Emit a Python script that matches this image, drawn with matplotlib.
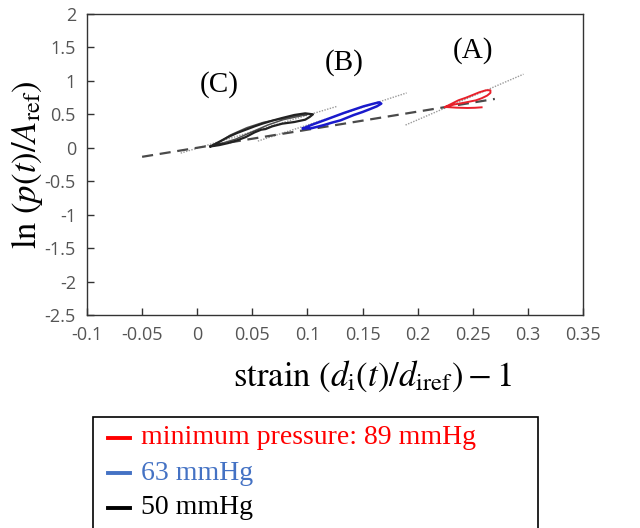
import matplotlib
matplotlib.use("Agg")
import matplotlib.pyplot as plt
from matplotlib.lines import Line2D
from matplotlib.patches import Rectangle

plt.rcParams["mathtext.fontset"] = "stix"

# Pressure-strain hysteresis loops (strain, ln p / A_ref), one traced cycle each
strain_A = [0.225, 0.231, 0.237, 0.244, 0.250, 0.256, 0.262, 0.266, 0.266, 0.263, 0.258, 0.253, 0.247, 0.241, 0.234, 0.228, 0.225]
lnp_A    = [0.610, 0.660, 0.710, 0.750, 0.790, 0.830, 0.860, 0.860, 0.820, 0.780, 0.740, 0.710, 0.690, 0.670, 0.650, 0.625, 0.610]
tail_strain_A = [0.225, 0.235, 0.245, 0.252, 0.258]
tail_lnp_A    = [0.610, 0.600, 0.595, 0.598, 0.605]

strain_B = [0.096, 0.105, 0.115, 0.124, 0.133, 0.142, 0.151, 0.159, 0.165, 0.167, 0.163, 0.157, 0.150, 0.142, 0.136, 0.130, 0.122, 0.115, 0.108, 0.103, 0.096]
lnp_B    = [0.290, 0.350, 0.410, 0.465, 0.520, 0.570, 0.620, 0.655, 0.680, 0.660, 0.620, 0.580, 0.535, 0.490, 0.450, 0.410, 0.375, 0.340, 0.310, 0.290, 0.290]

strain_C = [0.012, 0.020, 0.028, 0.036, 0.044, 0.052, 0.059, 0.068, 0.077, 0.088, 0.098, 0.105, 0.102, 0.098, 0.088, 0.077, 0.068, 0.062, 0.058, 0.052, 0.044, 0.036, 0.028, 0.020, 0.012]
lnp_C    = [0.020, 0.090, 0.160, 0.220, 0.270, 0.320, 0.360, 0.405, 0.445, 0.490, 0.515, 0.500, 0.460, 0.420, 0.385, 0.360, 0.320, 0.280, 0.270, 0.230, 0.160, 0.110, 0.070, 0.040, 0.020]
# second recorded cycle of loop C
strain_C2 = [0.015, 0.030, 0.045, 0.060, 0.075, 0.090, 0.100, 0.092, 0.078, 0.064, 0.050, 0.035, 0.015]
lnp_C2    = [0.030, 0.190, 0.300, 0.380, 0.430, 0.480, 0.500, 0.470, 0.420, 0.340, 0.240, 0.130, 0.030]

# Linear fits per loop (dotted) and across the loops (dashed)
fit_A_strain = [0.189, 0.296]
fit_A_lnp    = [0.340, 1.100]
fit_B_strain = [0.055, 0.190]
fit_B_lnp    = [0.100, 0.820]
fit_C_strain = [-0.015, 0.127]
fit_C_lnp    = [-0.080, 0.620]
fit_all_strain = [-0.050, 0.270]
fit_all_lnp    = [-0.135, 0.730]

labels = ["(A)", "(B)", "(C)"]
label_strain = [0.250, 0.133, 0.020]
label_lnp = [1.46, 1.27, 0.95]

legend_labels = ["minimum pressure: 89 mmHg", "63 mmHg", "50 mmHg"]
legend_colors = ["#ff0000", "#4472c4", "#000000"]
loop_colors = ["#e8202a", "#1a1acc", "#222222"]

xticks = [-0.1, -0.05, 0, 0.05, 0.1, 0.15, 0.2, 0.25, 0.3, 0.35]
xticklabels = ["-0.1", "-0.05", "0", "0.05", "0.1", "0.15", "0.2", "0.25", "0.3", "0.35"]
yticks = [-2.5, -2, -1.5, -1, -0.5, 0, 0.5, 1, 1.5, 2]
yticklabels = ["-2.5", "-2", "-1.5", "-1", "-0.5", "0", "0.5", "1", "1.5", "2"]

fig = plt.figure(figsize=(6.4, 5.28), dpi=100)
ax = fig.add_axes([87 / 640, 1 - 315 / 528, 496 / 640, 301 / 528])

fit_style = dict(color="#9a9a9a", lw=1.0, ls=(0, (1, 1)))
ax.plot(fit_A_strain, fit_A_lnp, **fit_style)
ax.plot(fit_B_strain, fit_B_lnp, **fit_style)
ax.plot(fit_C_strain, fit_C_lnp, **fit_style)
ax.plot(fit_all_strain, fit_all_lnp, color="#4a4a4a", lw=1.6, ls=(0, (5, 3)))

ax.plot(strain_C, lnp_C, color=loop_colors[2], lw=1.6)
ax.plot(strain_C2, lnp_C2, color=loop_colors[2], lw=1.1, alpha=0.8)
ax.plot(strain_B, lnp_B, color=loop_colors[1], lw=1.8)
ax.plot(strain_A, lnp_A, color=loop_colors[0], lw=1.4)
ax.plot(tail_strain_A, tail_lnp_A, color=loop_colors[0], lw=1.4)

for s, x, y in zip(labels, label_strain, label_lnp):
    ax.text(x, y, s, ha="center", va="center", fontsize=21,
            family="Liberation Serif", color="black")

ax.set_xlim(-0.1, 0.35)
ax.set_ylim(-2.5, 2)
ax.set_xticks(xticks)
ax.set_xticklabels(xticklabels)
ax.set_yticks(yticks)
ax.set_yticklabels(yticklabels)
ax.tick_params(direction="in", length=5, width=1, color="#333333",
               labelcolor="#555555", labelsize=13, pad=8)
for lab in ax.get_xticklabels() + ax.get_yticklabels():
    lab.set_family("Open Sans")
for sp in ax.spines.values():
    sp.set_color("#333333")
    sp.set_linewidth(1.0)

ax.set_xlabel(r"$\mathrm{strain}\ (d_{\mathrm{i}}(t)/d_{\mathrm{iref}})-1$", fontsize=25)
ax.set_ylabel(r"$\mathrm{ln}\ (p(t)/A_{\mathrm{ref}})$", fontsize=25)
ax.xaxis.set_label_coords(0.575, -0.145)
ax.yaxis.set_label_coords(-0.085, 0.5)

# Legend box below the plot, running past the lower edge of the figure
W, H = 640, 528
fig.patches.append(Rectangle((93 / W, -0.05), (538 - 93) / W, (H - 417) / H + 0.05,
                             transform=fig.transFigure, fill=False,
                             edgecolor="black", lw=1.2))
rows_y = [438, 473, 508]
for txt, col, yy in zip(legend_labels, legend_colors, rows_y):
    fig.lines.append(Line2D([108 / W, 130 / W], [1 - yy / H, 1 - yy / H],
                            transform=fig.transFigure, color=col, lw=2.8))
    fig.text(141 / W, 1 - yy / H, txt, color=col, fontsize=20,
             family="Liberation Serif", va="center", ha="left")

fig.savefig("out.png", dpi=100)
